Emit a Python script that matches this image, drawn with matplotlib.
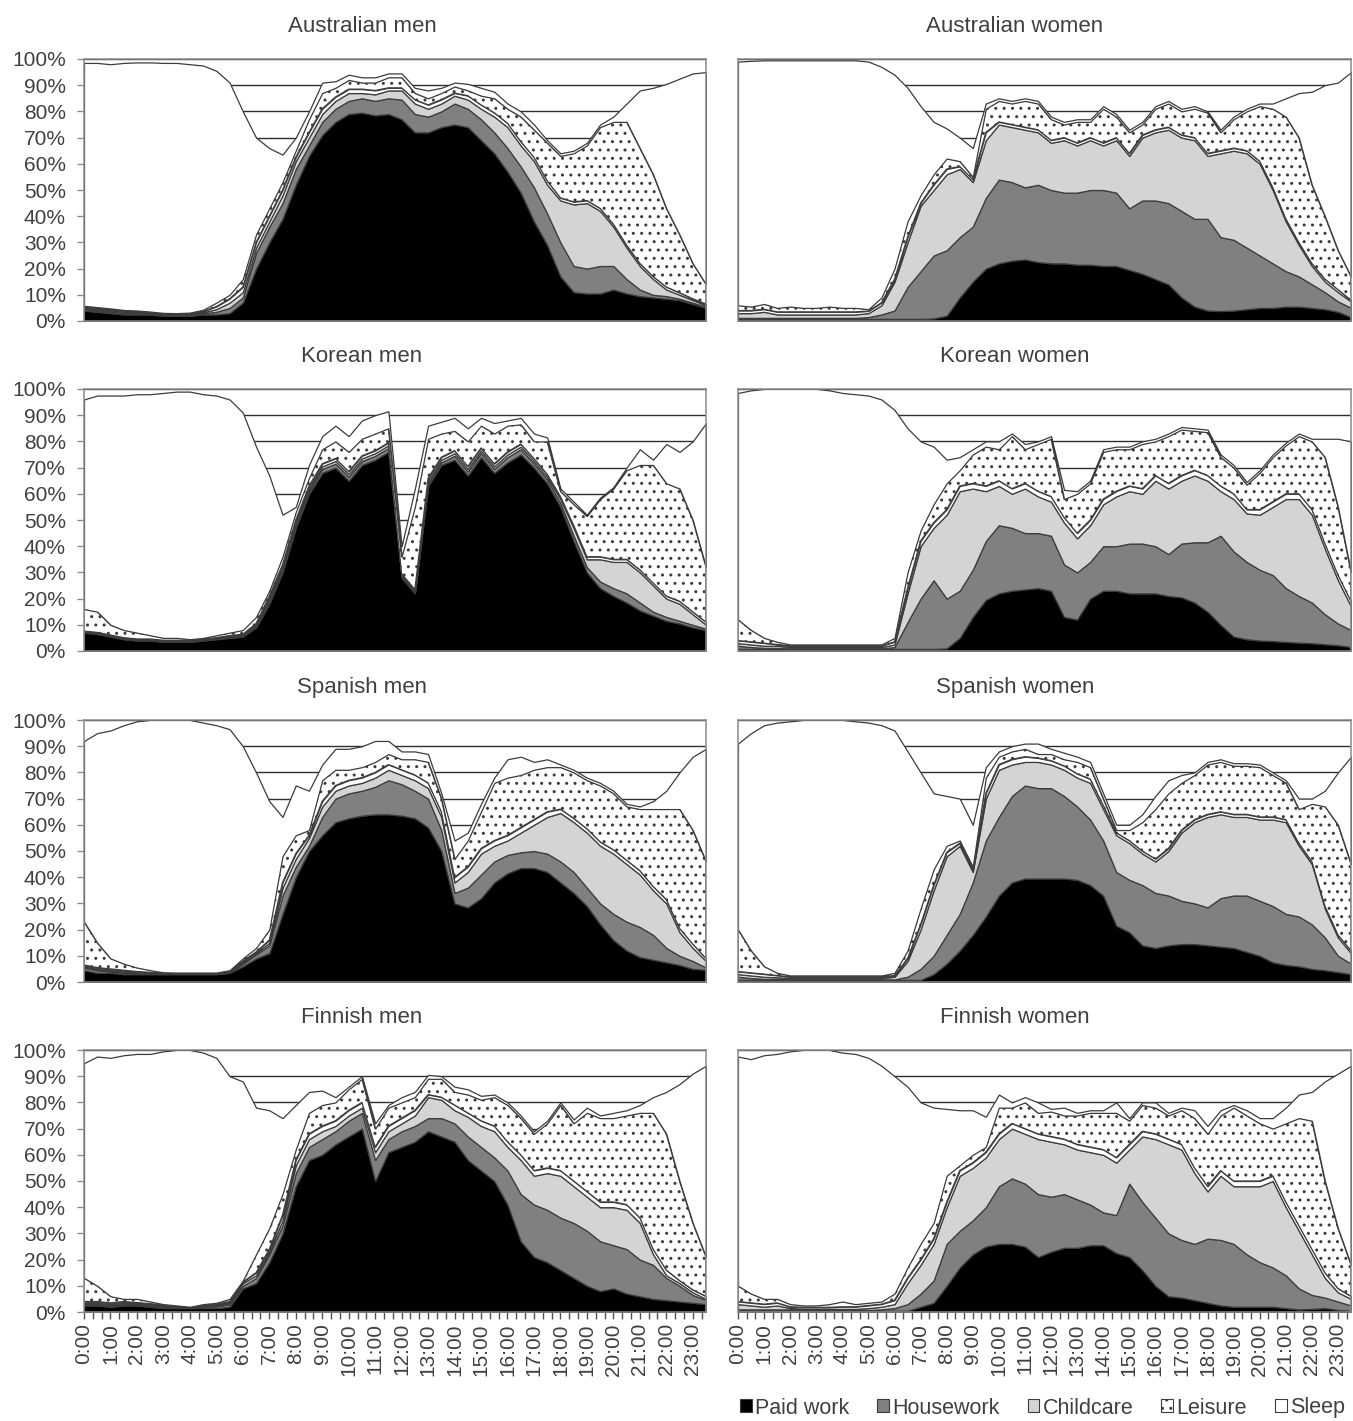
#Share of people in each activity across the day, by country and sex

import numpy as np
import matplotlib.pyplot as plt
from matplotlib.patches import Patch
from matplotlib.ticker import MultipleLocator

plt.rcParams['font.family'] = ['Liberation Sans', 'DejaVu Sans']
plt.rcParams['hatch.linewidth'] = 1.0

#half-hour time slots, 0:00 .. 23:30
TIMES = np.arange(48) * 0.5
HOUR_LABELS = ['%d:00' % h for h in range(24)]
ACTIVITIES = ['Paid work', 'Housework', 'Childcare', 'Other', 'Leisure', 'Sleep']

#percent of people in each activity (one value per half hour)
AUS_M_PAID = [4, 3.5, 3, 2.5, 2.5, 2.5, 2, 2, 2, 2.5, 2.5, 3,
              7, 20, 30, 39, 52, 63, 71, 76, 79, 79.5, 78.5, 79,
              77, 72, 72, 74, 75, 74, 69, 64, 57, 49, 38, 29,
              17, 11, 10.5, 10.5, 12, 10.5, 9.5, 9, 8.5, 8, 6.5, 5]
AUS_M_HOUSE = [.5, .5, .5, .5, .5, .3, .3, .2, .3, .5, 1, 2,
               2, 6, 6, 6, 6, 4, 5, 5, 5, 5.5, 5.5, 6,
               7.5, 7, 6, 6, 8, 7, 8, 8, 9, 10, 13, 12,
               13, 10, 9.5, 10.5, 9, 5.5, 2.5, 1, 1, .5, .5, .5]
AUS_M_CHILD = [.5, .5, .5, .5, .3, .2, .2, .2, .2, .3, 1, 2,
               2, 2, 2, 3, 3, 3, 3, 3, 3, 2, 2.5, 3,
               3.5, 4, 3, 3, 3, 3.5, 4, 6, 8, 8, 10, 11,
               16, 23.5, 25, 21, 15, 12, 9, 6, 2.5, 1.5, 1, .5]
AUS_M_OTHER = [.3, .3, .3, .3, .3, .3, .3, .3, .3, .4, 1, 1.5,
               2, 2, 2, 2, 1.5, 2, 2, 1.5, 1.5, 1.5, 1.5, 1,
               1, 1.5, 1.5, 1.5, 1, 1.5, 1.5, 1.5, 1.5, 1.5, 1.5, 1.5,
               1, 1, 1, 1, 1, 1, 1, 1, 1, .8, .5, .5]
AUS_M_LEISURE = [.5, .5, .5, .4, .4, .3, .3, .3, .4, .6, 1.5, 1.5,
                 3, 3, 3, 3, 2.5, 5, 6, 3.5, 3.5, 2.5, 3, 4,
                 4, 2.5, 2.5, 2.5, 2.5, 2, 3.5, 5.5, 5.5, 9.5, 10.5, 14.5,
                 16, 18.5, 21, 31, 39, 47, 44, 39, 30, 22.2, 13.5, 7.5]
AUS_M_SLEEP = [92.7, 93.2, 93.2, 94.3, 94.7, 95.1, 95.4, 95.5, 94.8, 93.2, 88.5, 81,
               64, 37, 23, 10.5, 5, 3, 4, 2.5, 2, 2, 2, 1.5,
               1.5, 2, 3, 2, 1.5, 2.5, 3, 2.5, 2, 2, 2, 1,
               1, 1, 1, 1, 2, 7, 22, 33, 47.5, 59.5, 72.5, 81]

AUS_W_PAID = [.8, .8, .8, .8, .8, .8, .8, .8, .8, .8, .8, .8,
              .8, .8, .8, 1, 2, 9, 15, 20, 22, 23, 23.5, 22.5,
              22, 22, 21.5, 21.5, 21, 21, 19.5, 18, 16, 14, 9, 5.5,
              4, 3.8, 4, 4.5, 5, 5, 5.5, 5.5, 5, 4.5, 3.5, 1.5]
AUS_W_HOUSE = [.4, .4, .4, .4, .4, .4, .4, .4, .4, .4, .7, 1.7,
               3.2, 12.2, 18.2, 24, 25, 23, 21, 27, 32, 30, 27.5, 29.5,
               28, 27, 27.5, 28.5, 29, 28, 23.5, 28, 30, 31, 33, 33.5,
               35, 28.2, 27, 23.5, 20, 17, 13.5, 11.5, 9, 6.5, 4, 3.5]
AUS_W_CHILD = [1.8, 1.8, 2.3, 1.3, 1.3, 1.3, 1.3, 1.3, 1.3, 1.3, 1.5, 3.5,
               11, 17, 25, 25, 29, 26, 17, 22, 21, 21, 22, 20,
               18, 20, 18, 19, 17, 20, 20, 24, 26, 28, 28, 30,
               24, 32, 34, 36, 35, 28, 19, 12, 7, 4, 3.5, 2.5]
AUS_W_OTHER = [1, 1, 1, 1, 1, 1, 1, 1, 1, 1, .8, 1,
               1, 2, 1, 2, 2, 1, 1, 3, 1, 1, 1, 1,
               1, 1, 1, 1, 1, 1, 1, 1, 1, 1, 1, 1,
               1, 1, 1, 1, 1, 1, 1, 1, 1, 1, 1, .5]
AUS_W_LEISURE = [2, 1.5, 2, 1.5, 2, 1.5, 1.5, 2, 1.5, 1.5, .7, 2,
                 4, 6, 3, 4, 4, 2, 1, 9, 8, 8, 10, 10,
                 8, 5, 8, 6, 13, 8, 8, 4, 8, 9, 9, 11,
                 15.5, 7, 11, 15, 21, 30, 39, 40, 30, 24, 15, 9]
AUS_W_SLEEP = [93, 93.8, 93, 94.5, 94, 94.5, 94.5, 94, 94.5, 94.5, 94.5, 88,
               74, 51, 34, 20, 11.5, 9, 11, 2, 1, 1, 1, 1,
               1, 1, 1, 1, 1, 1, 1, 1, 1, 1, 1, 1,
               .5, 1, 1, 1, 1, 2, 7, 17, 35.5, 50, 64, 78]

KOR_M_PAID = [7, 6.5, 5.5, 4.5, 4, 4, 3.5, 3.5, 3.5, 4, 4.5, 5,
              5.5, 9, 18, 30, 47, 60, 68, 70, 65, 71, 73, 76,
              28, 22, 63, 71, 73, 67, 74, 68, 72, 75, 70, 64,
              55, 42, 30, 24, 21, 18.5, 15.5, 13.5, 11.5, 10.5, 9, 8]
KOR_M_HOUSE = [.2, .2, .2, .2, .2, .2, .2, .2, .2, .2, .2, .3,
               .3, .5, 1, 1, 1, 1, 1.5, 1.5, 1.5, 1.5, 1.5, 1.5,
               .5, .5, 1, 1, 1.5, 1.5, 1.5, 1.5, 2, 2, 1.5, 1.5,
               1.5, 2, 2, 2.5, 3, 3.5, 3, 1.5, 1.5, 1, 1, .5]
KOR_M_CHILD = [.2, .2, .2, .2, .2, .2, .2, .2, .2, .2, .2, .3,
               .3, .5, 1, 1, 1, 1, 1, 1, 1, 1, 1, 1,
               .5, .5, 1, 1, 1, 1, 1, 1, 1, 1, 1, 1,
               1.5, 3, 3, 8.5, 10, 12, 11.5, 10, 7, 6.5, 4, 1.5]
KOR_M_OTHER = [.2, .2, .2, .2, .2, .2, .2, .2, .2, .2, .2, .3,
               .3, .5, 1, 1, 1, 1, 1, 1, 1, 1, 1, 1,
               .5, .5, 1, 1, 1, 1, 1, 1, 1, 1, 1, 1,
               1, 1, 1, 1, 1, 1, 1, 1, 1, 1, 1, 1]
KOR_M_LEISURE = [8.4, 7.9, 3.9, 2.9, 2.4, 1.4, .9, .9, .4, .4, .9, 1.1,
                 1.6, 2.5, 2, 3, 3, 3, 5.5, 6.5, 7.5, 6.5, 6.5, 5.5,
                 6.5, 31.5, 15, 9, 7.5, 9.5, 8.5, 11.5, 10, 7.5, 6.5, 12.5,
                 2, 8, 15.5, 22, 27, 34, 40, 45, 43, 43, 35, 21]
KOR_M_SLEEP = [80, 82.5, 87.5, 89.5, 91, 92, 93.5, 94, 94.5, 93, 91.5, 89,
               83, 65, 44, 16, 2, 5, 5, 6, 6, 7, 7, 6.5,
               4, 7, 5, 4.5, 5, 5, 3, 4, 2, 2.5, 3, 1.5,
               1, 1, .5, .5, .5, 1, 6, 2, 15, 14, 30, 55]

KOR_W_PAID = [.8, .8, .8, .8, .8, .8, .8, .8, .8, .8, .8, .8,
              .8, .8, .8, .8, 1, 5, 13, 19.5, 22, 23, 23.5, 24,
              23, 13, 12, 20, 23, 23, 22, 22, 22, 21, 20.5, 18.5,
              15, 10, 5.5, 4.5, 4, 3.8, 3.5, 3.2, 3, 2.6, 2.2, 1.6]
KOR_W_HOUSE = [1.2, .7, .4, .4, .2, .2, .2, .2, .2, .2, .2, .2,
               .7, 10.2, 19.2, 26.2, 19, 18, 18, 22.5, 26, 24, 21.5, 21,
               21, 20, 18, 14, 17, 17, 19, 19, 18, 16, 20.5, 23,
               26.5, 34, 32.5, 29.5, 27, 25.2, 20.5, 17.8, 15.5, 11.4, 8.3, 6.4]
KOR_W_CHILD = [1, 1, .8, .8, .5, .5, .5, .5, .5, .5, .5, .5,
               1, 11, 20, 20, 32, 38, 31, 19, 15, 13, 17, 14,
               13, 16, 13, 14, 16, 19, 20, 19, 25, 25, 24, 25.5,
               23.5, 17, 20, 18.5, 21, 26, 34, 37, 33.5, 25, 16.5, 9]
KOR_W_OTHER = [1, 1, 1, .5, .5, .5, .5, .5, .5, .5, .5, .5,
               1, 2, 2, 2, 2, 2, 2, 2, 2, 2, 2, 2,
               2, 2, 2, 2, 2, 2, 2, 2, 2, 2, 2, 2,
               2, 2, 2, 1.5, 2, 2, 2, 2, 2, 2, 2, 2]
KOR_W_LEISURE = [8, 4.5, 2, 1, .5, .5, .5, .5, .5, .5, .5, .5,
                 1.5, 6, 4, 7, 10, 6, 11, 15, 12, 20, 13, 18,
                 22, 7, 15, 14, 18, 16, 14, 17, 13, 18, 17.5, 15,
                 16.5, 11, 10, 9.5, 14, 17, 18.5, 22, 26, 33, 26, 11]
KOR_W_SLEEP = [86.5, 91.5, 95, 96.5, 97.5, 97.5, 97.5, 97, 96, 95.5, 95, 93.5,
               87, 55, 34, 22, 9, 5, 2, 2, 3, 1, 2, 1,
               1, 3.5, 1, 1, 1, 1, 1, 1, 1, 1, 1, 1,
               1, 1, 1, 1, 1, 1, 1, 1, 1, 7, 26, 50]

ESP_M_PAID = [4.5, 3.5, 3.5, 3, 3, 3, 3, 3, 3, 3, 3, 3.5,
              6, 9, 11, 26, 40, 50, 56, 61, 62.5, 63.5, 64, 64,
              63.5, 62.5, 59, 50, 30, 28.5, 32, 38, 41.5, 43.5, 43.5, 42,
              38, 34, 29, 22, 16, 12, 9.5, 8.5, 7.5, 6.5, 5, 4.7]
ESP_M_HOUSE = [1, 1, .5, .5, .3, .2, .1, .1, .1, .1, .1, .2,
               1, 1.5, 3, 7, 4, 2, 7, 9, 9.5, 9.5, 10.5, 13,
               12, 10.5, 11, 8, 4, 7.5, 9, 8, 7, 6, 6.5, 7,
               8, 8, 7, 8, 10, 11, 11.5, 9.5, 5.5, 3.5, 3, .8]
ESP_M_CHILD = [.5, .5, .5, .5, .3, .2, .1, .1, .1, .1, .1, .2,
               .5, .5, 1, 3, 3, 3, 4, 3, 3, 3, 3.5, 4,
               3.5, 4, 4, 5, 4, 6, 8, 6, 5.5, 7.5, 10, 14,
               18.5, 19, 21, 22, 23, 22, 20, 17, 17, 9, 5, 2.5]
ESP_M_OTHER = [.5, .5, .5, .5, .4, .3, .2, .2, .2, .2, .2, .3,
               .5, .5, 1, 2, 2, 1, 2, 2, 2, 2, 2, 2,
               2, 2, 2, 2, 2, 2, 2, 2, 2, 2, 2, 2,
               1.5, 1.5, 1.5, 1.5, 1.5, 1.5, 1.5, 1.5, 1.5, 1.5, 1.5, 1]
ESP_M_LEISURE = [16.5, 9.5, 4, 2.5, 1.5, .8, .3, .2, .2, .2, .2, .3,
                 1, 1.5, 4, 10, 7, 2, 8, 6, 4, 4, 4, 4,
                 4, 6, 8, 5, 7, 10, 14, 22, 22, 20, 19, 17,
                 16, 17.5, 18.5, 21.5, 21.5, 20.5, 23.5, 29.5, 34.5, 45.5, 43.5, 37]
ESP_M_SLEEP = [69, 80, 87, 91, 94, 95.5, 96.3, 96.4, 96.4, 95.4, 94.4, 92,
               81, 67, 49, 15, 19, 15, 6, 8, 8, 8, 8, 5,
               3, 3, 3, 2, 7, 3, 3, 2, 7, 7, 3, 3,
               1, 1, 1, 1, 1, 1, 1, 3, 7, 14, 28, 43]

ESP_W_PAID = [.8, .8, .8, .8, .8, .8, .8, .8, .8, .8, .8, .8,
              .8, .8, .8, 3, 7, 12, 18, 25, 33, 38, 39.5, 39.5,
              39.5, 39.5, 39, 37, 33, 21.5, 19, 14, 13, 14, 14.5, 14.5,
              14, 13.5, 13, 11.5, 10, 7.5, 6.5, 6, 5, 4.5, 3.8, 3]
ESP_W_HOUSE = [1.2, .7, .4, .4, .2, .2, .2, .2, .2, .2, .2, .2,
               .2, 1.2, 4.2, 7, 11, 14, 20, 29, 30, 33, 35.5, 34.5,
               34.5, 31.5, 28, 25, 21, 20.5, 20, 23, 21, 19, 16.5, 15.5,
               14.5, 18.5, 20, 21.5, 21, 21.5, 19.5, 19, 17, 12.5, 6.2, 4]
ESP_W_CHILD = [1, 1, .8, .6, .5, .5, .5, .5, .5, .5, .5, .5,
               1, 6, 15, 25, 30, 26, 4, 16, 18, 12, 9, 10,
               9, 10, 11, 14, 12, 14, 14, 12, 12, 17, 26, 31,
               34.5, 32, 30, 30, 31, 33, 35, 27, 23, 11, 7, 4]
ESP_W_OTHER = [1, 1, 1, .7, .5, .5, .5, .5, .5, .5, .5, .5,
               .5, 1, 2, 2, 1.5, 1, 1, 2, 2, 2, 2, 1.5,
               1.5, 1.5, 1.5, 1.5, 1.5, 1, 1, 1, 1, 1, 1, 1,
               1, 1, 1, 1, 1, 1, 1, 1, 1, 1, 1, 1]
ESP_W_LEISURE = [16, 8.5, 3, 1, .5, .5, .5, .5, .5, .5, .5, .5,
                 1, 3, 6, 6, 2.5, 1, 1, 6, 3, 3, 3, 1.5,
                 2.5, 2.5, 4.5, 4.5, 2.5, 1, 4, 11, 19, 21, 18, 17,
                 19, 19, 18.5, 18.5, 19, 16, 14, 13, 22, 38, 42, 33]
ESP_W_SLEEP = [71, 83, 92, 95.5, 97, 97.5, 97.5, 97.5, 97.5, 97, 96.5, 95.5,
               92.5, 76, 52, 29, 19, 16, 16, 4, 2, 2, 2, 4,
               2, 2.5, 2, 2, 2, 2, 2, 3, 5, 5, 3, 1,
               1, 1, 1, 1, 1, 1, 1, 4, 2, 6, 20, 41]

FIN_M_PAID = [2.5, 2.5, 2, 2.5, 2.5, 2, 1.5, 1.5, 1.5, 1.5, 1.5, 2,
              9, 11, 19, 30, 48, 58, 60, 64, 67, 70, 50, 61,
              63, 65, 69, 67, 65, 58, 54, 50, 41, 27, 21, 19,
              16, 13, 10, 8, 9, 7, 6, 5, 4.5, 4, 3.5, 3]
FIN_M_HOUSE = [.5, .5, .5, .5, .5, .5, .5, .3, .2, .5, .7, 1,
               1, 2, 3, 3, 5, 5, 6, 5, 6, 6, 8, 5,
               6, 6, 5, 7, 7, 9, 9, 9, 13, 18, 20, 20,
               20, 21, 21, 19, 16.5, 17, 14, 13, 8.5, 6, 3, 1.5]
FIN_M_CHILD = [.5, .5, .5, .5, .3, .3, .3, .2, .1, .3, .4, .5,
               1, 1, 1, 2, 3, 3, 3, 2, 2, 2, 3, 3,
               3, 4, 8, 7, 5, 7.5, 8, 10, 9, 13, 11, 14,
               16, 14, 13, 13, 14.5, 15, 14, 4, 1, 1, 1, .5]
FIN_M_OTHER = [.5, .5, .5, .5, .3, .4, .3, .2, .1, .3, .4, .5,
               .5, 1, 1, 2, 2, 2, 2, 2, 2, 2, 2, 2,
               2, 2, 1, 1, 2, 1.5, 2, 2, 2, 2, 2, 2,
               2, 2, 2, 2, 2, 2, 2, 2, 2, 1, 1, 1]
FIN_M_LEISURE = [9, 6, 2.5, 1, 1.4, .8, .4, .3, .1, .4, .5, 1,
                 .5, 7, 8, 8, 4, 8, 8, 7, 8, 9, 7, 7,
                 6, 5, 6, 7, 5, 7, 8, 11, 14, 14, 14, 17,
                 25, 22, 30, 32, 32, 34, 40, 52, 52, 38, 25.5, 15]
FIN_M_SLEEP = [82, 87.5, 91, 93, 93.5, 94.5, 96.5, 97.5, 98, 96, 93.5, 85,
               76, 56, 45, 29, 17, 8, 5.5, 2, 1, 1, 2, 1,
               2, 2, 1.5, 1, 2, 2, 1.5, 1, 1, 1, 1, 1,
               1, 1.5, 2, 1, 2, 2, 3, 6, 16, 37, 57, 73]

FIN_W_PAID = [.5, .5, .5, .5, .5, .5, .5, .5, .5, .5, .5, .5,
              .5, .5, 2, 3.5, 10, 17, 22, 25, 26, 26, 25, 21,
              23, 24.5, 24.5, 25.5, 25.5, 22.5, 21, 16, 10, 6, 5.5, 4.5,
              3.5, 2.5, 2, 2, 2, 2, 1.5, 1, 1.2, 1.5, .8, .5]
FIN_W_HOUSE = [.5, .5, .5, .5, .5, .3, .3, .3, .3, .3, .3, .5,
               1, 2.5, 5, 8.5, 16, 14, 13, 15, 22, 25, 24, 24,
               21, 20.5, 18.5, 15.5, 12.5, 14.5, 28, 26, 26, 24, 22, 21.5,
               24.5, 25, 24, 20, 17, 15, 12.5, 8, 5.3, 4, 3.2, 2]
FIN_W_CHILD = [2, 1.5, 1, 1.5, .5, .4, .4, .4, .4, .4, .7, 1,
               1.5, 8, 11, 14, 14, 21, 20, 19, 18, 19, 19, 21,
               21, 19, 19, 20, 22, 20, 13, 25, 30, 34, 34.5, 27,
               18, 24.5, 22, 26, 29, 33, 26, 22, 15.5, 7.5, 3.5, 2.5]
FIN_W_OTHER = [1, 1, 1, 1, .5, .6, .6, .6, .8, .8, 1, 1,
               1.5, 2, 2, 2, 2, 2, 2, 2, 2, 2, 2, 2,
               2, 2, 2, 2, 2, 2, 2, 2, 2, 2, 2, 2,
               2, 2, 2, 2, 2, 2, 2, 2, 2, 2, 1.5, 1]
FIN_W_LEISURE = [6, 3.5, 2, 1.5, 1, .7, .7, 1.2, 2, 1, 1, 1,
                 2.5, 4, 6, 6, 10, 2, 3, 2, 10, 6, 10, 8,
                 9.5, 9, 11, 13, 14, 17, 9, 10, 10, 9, 13, 19,
                 20, 21, 28, 25, 22, 18, 30, 41, 49, 35, 23, 12]
FIN_W_SLEEP = [87.5, 89.5, 93, 93.5, 96.5, 97.5, 97.5, 97, 95, 95.5, 93.5, 90,
               83, 69, 54, 44, 25.5, 21, 17, 11.5, 5, 2, 2, 4,
               1, 3, 1, 1, 1, 4, 1, 1, 2, 1, 1, 3,
               3, 2, 1, 2, 2, 4, 6, 9, 11, 38, 59, 76]

PANELS = [
    ('Australian men', [AUS_M_PAID, AUS_M_HOUSE, AUS_M_CHILD, AUS_M_OTHER, AUS_M_LEISURE, AUS_M_SLEEP]),
    ('Australian women', [AUS_W_PAID, AUS_W_HOUSE, AUS_W_CHILD, AUS_W_OTHER, AUS_W_LEISURE, AUS_W_SLEEP]),
    ('Korean men', [KOR_M_PAID, KOR_M_HOUSE, KOR_M_CHILD, KOR_M_OTHER, KOR_M_LEISURE, KOR_M_SLEEP]),
    ('Korean women', [KOR_W_PAID, KOR_W_HOUSE, KOR_W_CHILD, KOR_W_OTHER, KOR_W_LEISURE, KOR_W_SLEEP]),
    ('Spanish men', [ESP_M_PAID, ESP_M_HOUSE, ESP_M_CHILD, ESP_M_OTHER, ESP_M_LEISURE, ESP_M_SLEEP]),
    ('Spanish women', [ESP_W_PAID, ESP_W_HOUSE, ESP_W_CHILD, ESP_W_OTHER, ESP_W_LEISURE, ESP_W_SLEEP]),
    ('Finnish men', [FIN_M_PAID, FIN_M_HOUSE, FIN_M_CHILD, FIN_M_OTHER, FIN_M_LEISURE, FIN_M_SLEEP]),
    ('Finnish women', [FIN_W_PAID, FIN_W_HOUSE, FIN_W_CHILD, FIN_W_OTHER, FIN_W_LEISURE, FIN_W_SLEEP]),
]

COLORS = ['black', '#808080', '#d4d4d4', 'white', 'white', 'white']
HATCHES = [None, None, None, None, '..', None]
EDGE = '#3c3c3c'
TEXT = '#404040'

W, H = 1353.0, 1421.0
fig = plt.figure(figsize=(W / 100, H / 100), dpi=100)

#axes boxes in pixels
lefts = [84, 738]
widths = [622, 613]
tops = [59, 389, 720, 1050]
height = 262
title_x = [362, 1015]   #titles sit over the whole chart area, not the plot box

for i, (title, layers) in enumerate(PANELS):
    row, col = divmod(i, 2)
    ax = fig.add_axes([lefts[col] / W, 1 - (tops[row] + height) / H,
                       widths[col] / W, height / H])
    polys = ax.stackplot(TIMES, *layers, colors=COLORS,
                         edgecolor=EDGE, linewidth=0.9)
    for p, h in zip(polys, HATCHES):
        if h:
            p.set_hatch(h)

    ax.set_xlim(0, TIMES[-1])
    ax.set_ylim(0, 100)
    ax.set_axisbelow(True)
    ax.yaxis.grid(True, color='#2e2e2e', lw=1.0)
    ax.set_yticks(range(0, 101, 10))
    for s in ax.spines.values():
        s.set_color('#8a8a8a')
        s.set_linewidth(1.1)

    if col == 0:
        ax.set_yticklabels(['%d%%' % v for v in range(0, 101, 10)])
        ax.tick_params(axis='y', length=5, width=1, color='#8a8a8a',
                       labelsize=15, labelcolor=TEXT, pad=8)
    else:
        ax.tick_params(axis='y', length=0, labelleft=False)

    if row == 3:
        ax.set_xticks(range(24))
        ax.set_xticklabels(HOUR_LABELS, rotation=90)
        ax.xaxis.set_minor_locator(MultipleLocator(1 / 3))
        ax.tick_params(axis='x', which='both', length=5, width=1,
                       color='#555555', labelsize=15, labelcolor=TEXT, pad=3)
    else:
        ax.set_xticks([])

    fig.text(title_x[col] / W, 1 - (tops[row] - 27) / H, title,
             ha='center', va='baseline', fontsize=16, color=TEXT)

#legend (Other is not listed)
handles = [Patch(facecolor=COLORS[k], edgecolor=EDGE, hatch=HATCHES[k], lw=0.8)
           for k in (0, 1, 2, 4, 5)]
labels = [ACTIVITIES[k] for k in (0, 1, 2, 4, 5)]
fig.legend(handles, labels, loc='center right', bbox_to_anchor=(1345 / W, 1 - 1408 / H),
           ncol=5, frameon=False, fontsize=15.5, labelcolor=TEXT,
           handlelength=0.55, handleheight=0.55, handletextpad=0.15,
           columnspacing=1.3, borderaxespad=0, borderpad=0)

fig.savefig('out.png', dpi=100, facecolor='white')
